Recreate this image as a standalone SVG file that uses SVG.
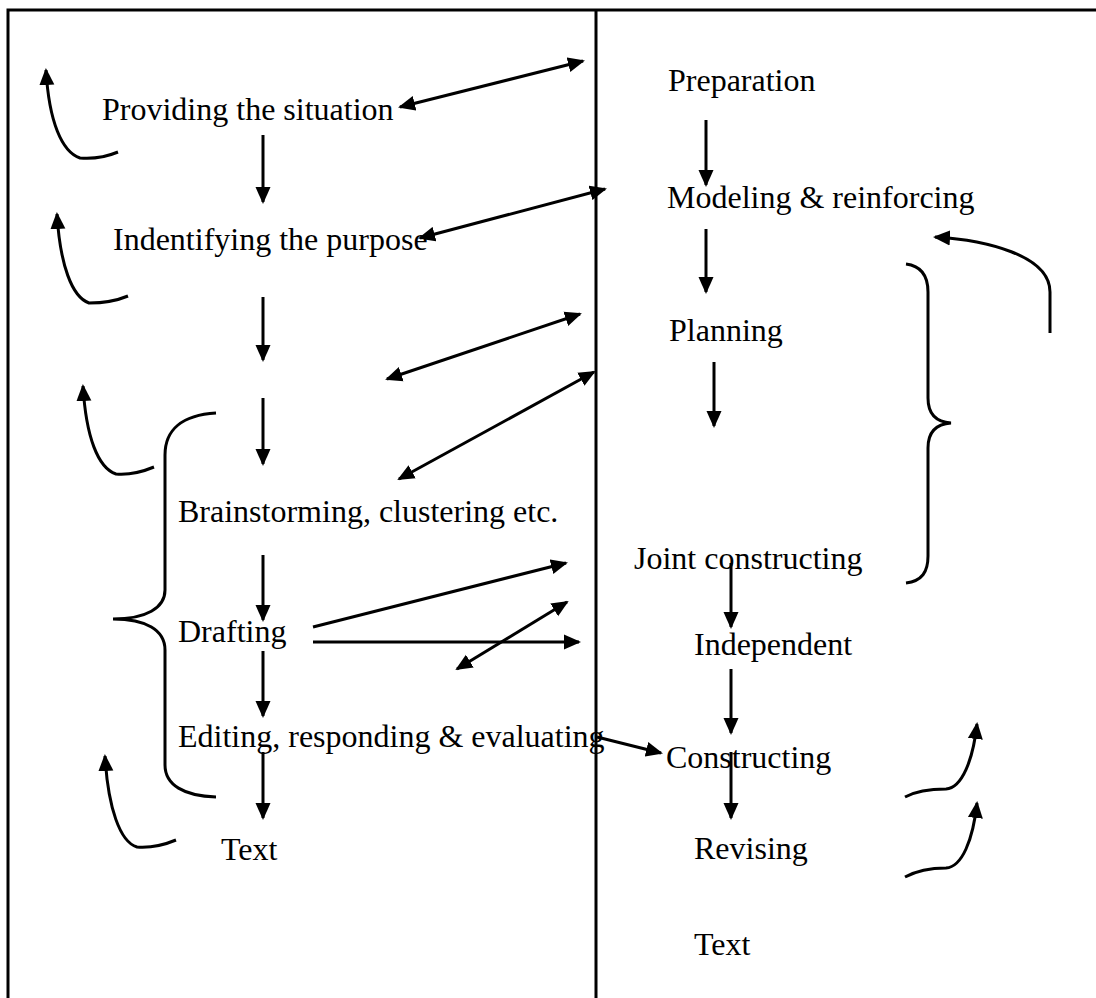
<svg xmlns="http://www.w3.org/2000/svg" width="1096" height="998" viewBox="0 0 1096 998">
<style>
.t{font-family:"Liberation Serif","Times New Roman",serif;font-size:32px;fill:#000}
.f{fill:none;stroke:#000;stroke-width:3}
.a{fill:none;stroke:#000;stroke-width:3;marker-end:url(#ah)}
.d{fill:none;stroke:#000;stroke-width:3;marker-start:url(#ah);marker-end:url(#ah)}
.b{fill:none;stroke:#000;stroke-width:3}
</style>
<defs>
<marker id="ah" markerUnits="userSpaceOnUse" markerWidth="18" markerHeight="16" refX="15" refY="8" orient="auto-start-reverse" viewBox="0 0 18 16">
<path d="M0,0.5 L17,8 L0,15.5 z" fill="#000"/>
</marker>
</defs>
<rect width="1096" height="998" fill="#fff"/>
<g id="frame">
<path class="b" d="M8,998 L8,10 L1096,10"/>
<path class="b" d="M596,10 L596,998"/>
</g>
<g id="n-providing"><text class="t" x="102" y="120">Providing the situation</text></g>
<g id="n-identifying"><text class="t" x="113" y="250">Indentifying the purpose</text></g>
<g id="n-brainstorming"><text class="t" x="178" y="522">Brainstorming, clustering etc.</text></g>
<g id="n-drafting"><text class="t" x="178" y="642">Drafting</text></g>
<g id="n-editing"><text class="t" x="178" y="747">Editing, responding &amp; evaluating</text></g>
<g id="n-text-left"><text class="t" x="221" y="860">Text</text></g>
<g id="n-preparation"><text class="t" x="668" y="91">Preparation</text></g>
<g id="n-modeling"><text class="t" x="667" y="208">Modeling &amp; reinforcing</text></g>
<g id="n-planning"><text class="t" x="669" y="341">Planning</text></g>
<g id="n-joint"><text class="t" x="634" y="569">Joint constructing</text></g>
<g id="n-independent"><text class="t" x="694" y="655">Independent</text></g>
<g id="n-constructing"><text class="t" x="666" y="768">Constructing</text></g>
<g id="n-revising"><text class="t" x="694" y="859">Revising</text></g>
<g id="n-text-right"><text class="t" x="694" y="955">Text</text></g>
<g id="connectors">
<path class="a" d="M263,135 L263,202"/>
<path class="a" d="M263,297 L263,360"/>
<path class="a" d="M263,398 L263,464"/>
<path class="a" d="M263,555 L263,620"/>
<path class="a" d="M263,651 L263,716"/>
<path class="a" d="M263,752 L263,818"/>
<path class="a" d="M706,120 L706,185"/>
<path class="a" d="M706,229 L706,292"/>
<path class="a" d="M714,362 L714,426"/>
<path class="a" d="M731,563 L731,627"/>
<path class="a" d="M731,669 L731,733"/>
<path class="a" d="M731,752 L731,818"/>
<path class="d" d="M400,107 L583,61"/>
<path class="d" d="M420,238 L605,189"/>
<path class="d" d="M387,379 L580,314"/>
<path class="d" d="M399,479 L594,372"/>
<path class="a" d="M313,627 L566,563"/>
<path class="a" d="M313,642 L579,642"/>
<path class="d" d="M457,669 L567,602"/>
<path class="a" d="M597,737 L661,753"/>
<path class="a" d="M118,152 C106,157 92,159 80,158 C62,152 49,122 46,70"/>
<path class="a" d="M128,296 C116,301 102,303 89,303 C72,297 60,265 57,214"/>
<path class="a" d="M154,467 C142,472 128,475 116,474 C98,468 86,437 83,386"/>
<path class="a" d="M176,840 C164,845 150,848 137,847 C120,842 108,808 105,756"/>
<path class="a" d="M905,797 C918,790 935,789 946,789 C962,788 973,760 977,724"/>
<path class="a" d="M905,877 C918,870 935,868 946,868 C962,867 973,840 977,803"/>
<path class="a" d="M1050,333 L1050,292 C1050,255 985,240 935,237"/>
<path class="f" d="M906,264 C922,266 928,276 928,292 L928,398 C928,414 936,422 951,423 C936,424 928,432 928,448 L928,556 C928,572 922,581 906,583"/>
<path class="f" d="M216,413 C182,415 165,430 165,455 L165,590 C165,608 146,619 113,619 C146,619 165,630 165,650 L165,765 C165,785 184,796 216,797"/>
</g>
</svg>
